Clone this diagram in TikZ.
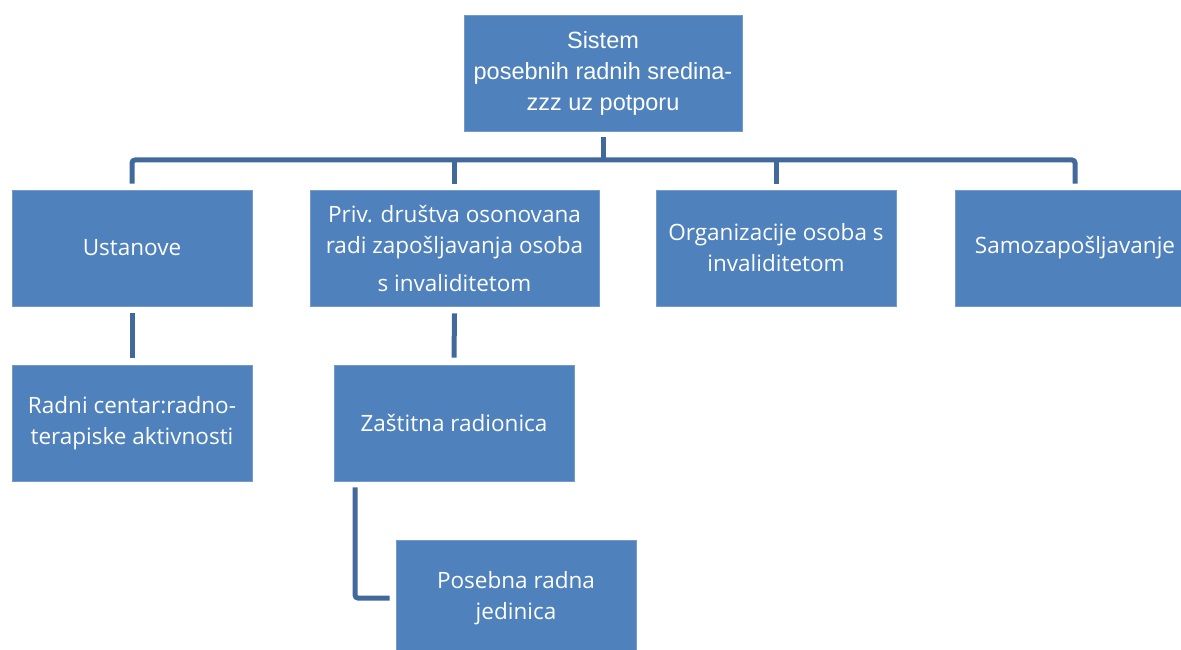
\documentclass[tikz,border=0pt]{standalone}
\usepackage{fontspec}
\setmainfont{Open Sans}
\newfontfamily\arialf{Liberation Sans}
\definecolor{boxblue}{RGB}{79,129,189}
\definecolor{linkblue}{RGB}{65,105,155}
\begin{document}
\begin{tikzpicture}[x=1pt,y=-1pt,
  box/.style={fill=boxblue,draw=boxblue!80!white,line width=0.8pt,text=white,align=center,
    minimum width=240pt,minimum height=116pt,inner sep=0pt,font=\fontsize{22.5}{31}\selectfont},
  conn/.style={draw=linkblue,line width=5pt,rounded corners=3pt}]
\useasboundingbox (0,0) rectangle (1181,650);
\clip (0,0) rectangle (1181,650);
\node[box,minimum width=278pt,font=\arialf\fontsize{23.5}{30.5}\selectfont] (top) at (603,73) {Sistem\\[1pt]posebnih radnih sredina-\\zzz uz potporu};
\node[box] (ust) at (132,248) {Ustanove};
\node[box,minimum width=289pt] (priv) at (454.5,248) {Priv. društva osonovana\\radi zapošljavanja osoba\\[7pt]s invaliditetom};
\node[box] (org) at (776,248) {Organizacije osoba s\\invaliditetom};
\node[box] (sam) at (1075,248) {Samozapošljavanje};
\node[box] (rad) at (132,423) {Radni centar:radno-\\terapiske aktivnosti};
\node[box] (zas) at (454,423) {Zaštitna radionica};
\node[box] (pos) at (516,598) {Posebna radna\\jedinica};
\coordinate (bar) at (603,160);
\draw[conn] ([yshift=-6pt]top.south) -- (bar);
\draw[conn] ([yshift=6pt]ust.north) -- (ust.north |- bar) -- (sam.north |- bar) -- ([yshift=6pt]sam.north);
\draw[conn] (priv.north |- bar) -- ([yshift=6pt]priv.north);
\draw[conn] (org.north |- bar) -- ([yshift=6pt]org.north);
\draw[conn] ([yshift=-7pt]ust.south) -- ([yshift=7pt]rad.north);
\draw[conn] ([yshift=-7pt]priv.south) -- ([yshift=7pt]zas.north);
\coordinate (zl) at (355,0);
\draw[conn] ([yshift=-6pt]zas.south -| zl) |- ([xshift=-6pt]pos.west);
\end{tikzpicture}
\end{document}
